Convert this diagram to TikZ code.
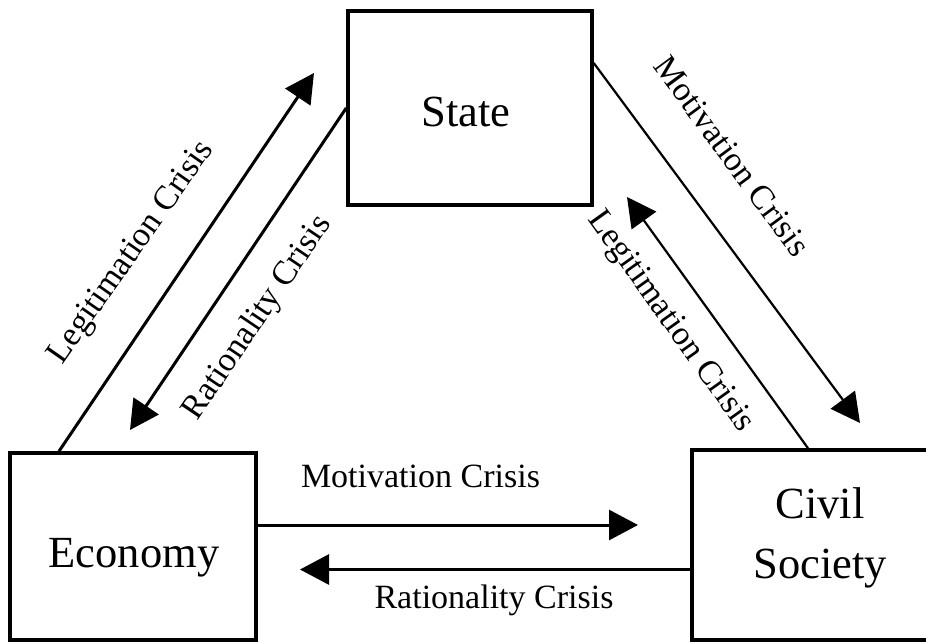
\documentclass[tikz,border=0pt]{standalone}
\usepackage{fontspec}
\setmainfont{Liberation Serif}
\usetikzlibrary{arrows.meta}
\begin{document}
\begin{tikzpicture}[x=1pt,y=1pt,
  box/.style={draw, line width=3.5pt, inner sep=0pt},
  big/.style={font=\fontsize{44.5}{50}\selectfont, inner sep=0pt},
  lab/.style={font=\fontsize{34}{40}\selectfont, inner sep=0pt},
  arr/.style={line width=3pt, -{Triangle[length=29pt,width=30pt]}},
  arrthin/.style={arr, line width=2.2pt}]
\useasboundingbox (0,0) rectangle (926,643);
\clip (0,0) rectangle (926,643);
% boxes
\node[box, minimum width=244pt, minimum height=194pt] (state) at (470,535) {};
\node[box, minimum width=246pt, minimum height=187pt] (econ) at (133,96.5) {};
\node[box, minimum width=256pt, minimum height=190pt] (civil) at (820,98) {};
% box texts
\node[big, anchor=base] (stateT) at (466,516) {State};
\node[big, anchor=base] (econT) at (134,76) {Economy};
\node[big, anchor=base] (civilT) at (820,125) {Civil};
\node[big, anchor=base] (socT) at (820,65) {Society};
% free arrow ends
\coordinate (t1) at (314,570);
\coordinate (t2) at (130,213);
\coordinate (t3) at (860,220);
\coordinate (t4) at (627,446);
\coordinate (t5) at (638,118);
\coordinate (t6) at (300,73.5);
% connectors
\draw[arr] ([xshift=-74pt]econ.north) -- (t1);
\draw[arr] (state.west) -- (t2);
\draw[arrthin] ([yshift=45pt]state.east) -- (t3);
\draw[arrthin] ([xshift=-12pt]civil.north) -- (t4);
\draw[arr] ([yshift=21.5pt]econ.east) -- (t5);
\draw[arr] ([yshift=-24.5pt]civil.west) -- (t6);
% labels
\node[lab, rotate=55] (l1) at (132,390) {Legitimation Crisis};
\node[lab, rotate=56] (l2) at (258,325) {Rationality Crisis};
\node[lab, rotate=-53.5] (l3) at (732,487) {Motivation Crisis};
\node[lab, rotate=-54.5] (l4) at (670,321) {Legitimation Crisis};
\node[lab, anchor=base] (l5) at (420.5,156) {Motivation Crisis};
\node[lab, anchor=base] (l6) at (494,35) {Rationality Crisis};
\end{tikzpicture}
\end{document}
